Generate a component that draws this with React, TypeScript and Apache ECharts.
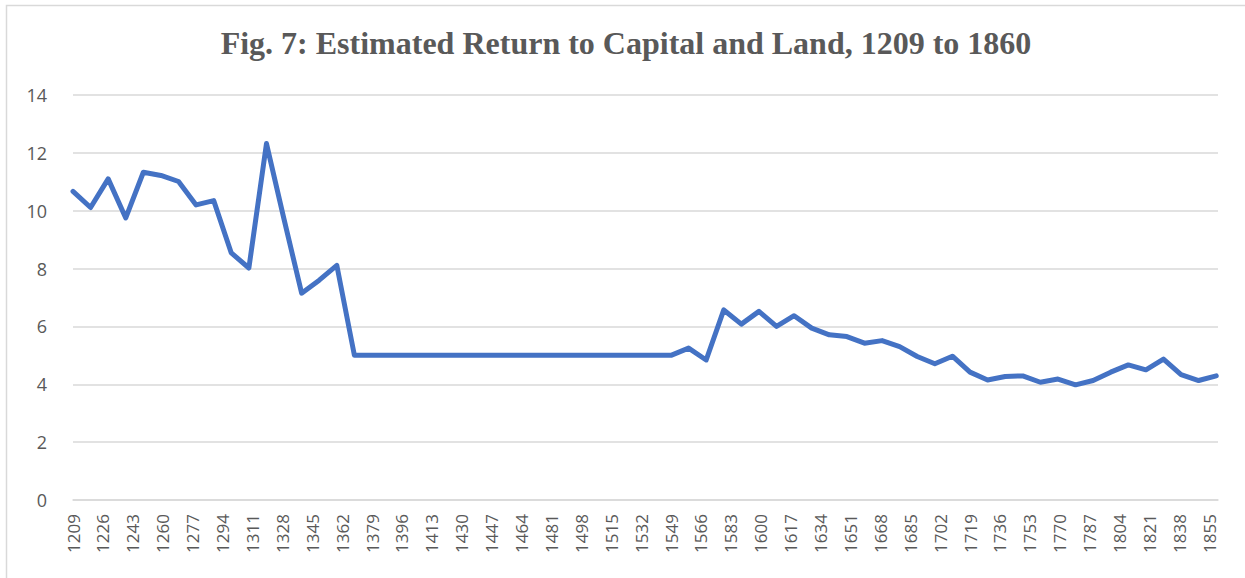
import React, { useEffect, useRef } from "react";
import * as echarts from "echarts";

const TITLE = "Fig. 7: Estimated Return to Capital and Land, 1209 to 1860";
const START_YEAR = 1209;
const END_YEAR = 1860;
const TICK_STEP = 17;

const years = [
  1209, 1219, 1229, 1239, 1249, 1259, 1269, 1279, 1289, 1299, 1309, 1319, 1329, 1339, 1349, 1359,
  1369, 1379, 1389, 1399, 1409, 1419, 1429, 1439, 1449, 1459, 1469, 1479, 1489, 1499, 1509, 1519,
  1529, 1539, 1549, 1559, 1569, 1579, 1589, 1599, 1609, 1619, 1629, 1639, 1649, 1659, 1669, 1679,
  1689, 1699, 1709, 1719, 1729, 1739, 1749, 1759, 1769, 1779, 1789, 1799, 1809, 1819, 1829, 1839,
  1849, 1859,
];

const returns = [
  10.67, 10.11, 11.1, 9.75, 11.33, 11.22, 11.01, 10.2, 10.35, 8.54, 8.02, 12.32, 9.7, 7.15, 7.6, 8.11,
  5.0, 5.0, 5.0, 5.0, 5.0, 5.0, 5.0, 5.0, 5.0, 5.0, 5.0, 5.0, 5.0, 5.0, 5.0, 5.0,
  5.0, 5.0, 5.0, 5.25, 4.84, 6.57, 6.08, 6.52, 6.0, 6.37, 5.94, 5.71, 5.65, 5.42, 5.51, 5.3,
  4.96, 4.71, 4.97, 4.42, 4.15, 4.27, 4.29, 4.07, 4.18, 3.98, 4.13, 4.42, 4.67, 4.5, 4.87, 4.33,
  4.13, 4.29,
];

const yTicks = { min: 0, max: 14, step: 2 };

export default function App() {
  const ref = useRef<HTMLDivElement>(null);

  useEffect(() => {
    if (!ref.current) return;
    const chart = echarts.init(ref.current, null, { renderer: "svg" });
    const grey = "#595959";
    const gridColor = "#d9d9d9";
    chart.setOption({
      animation: false,
      backgroundColor: "#ffffff",
      title: {
        text: TITLE,
        left: 621,
        textAlign: "center",
        top: 22,
        textStyle: {
          fontFamily: "'Liberation Serif', 'Times New Roman', serif",
          fontWeight: "bold",
          fontSize: 32,
          color: grey,
        },
      },
      graphic: [
        {
          type: "rect",
          shape: { x: 6.5, y: 5.5, width: 1400, height: 800 },
          style: { fill: "none", stroke: gridColor, lineWidth: 1.5 },
          silent: true,
        },
      ],
      grid: { left: 73, right: 27, top: 95, bottom: 78, containLabel: false },
      xAxis: {
        type: "value",
        min: 0,
        max: END_YEAR - START_YEAR,
        interval: TICK_STEP,
        axisLine: { show: true, lineStyle: { color: gridColor, width: 1.5 } },
        axisTick: { show: false },
        splitLine: { show: false },
        axisLabel: {
          rotate: 90,
          margin: 14,
          showMaxLabel: false,
          showMinLabel: true,
          color: grey,
          fontSize: 17,
          fontFamily: "'Open Sans', 'Noto Sans', sans-serif",
          formatter: (v: number) => String(v + START_YEAR),
        },
      },
      yAxis: {
        type: "value",
        min: yTicks.min,
        max: yTicks.max,
        interval: yTicks.step,
        axisLine: { show: false },
        axisTick: { show: false },
        splitLine: { show: true, lineStyle: { color: gridColor, width: 1.5 } },
        axisLabel: {
          margin: 26,
          color: grey,
          fontSize: 18,
          fontFamily: "'Open Sans', 'Noto Sans', sans-serif",
        },
      },
      series: [
        {
          type: "line",
          data: years.map((y, i) => [y - START_YEAR, returns[i]]),
          showSymbol: false,
          symbol: "none",
          lineStyle: { color: "#4472C4", width: 5, cap: "round", join: "round" },
        },
      ],
    });
    return () => chart.dispose();
  }, []);

  return (
    <div
      ref={ref}
      style={{ position: "fixed", left: 0, top: 0, width: 1245, height: 578 }}
    />
  );
}
